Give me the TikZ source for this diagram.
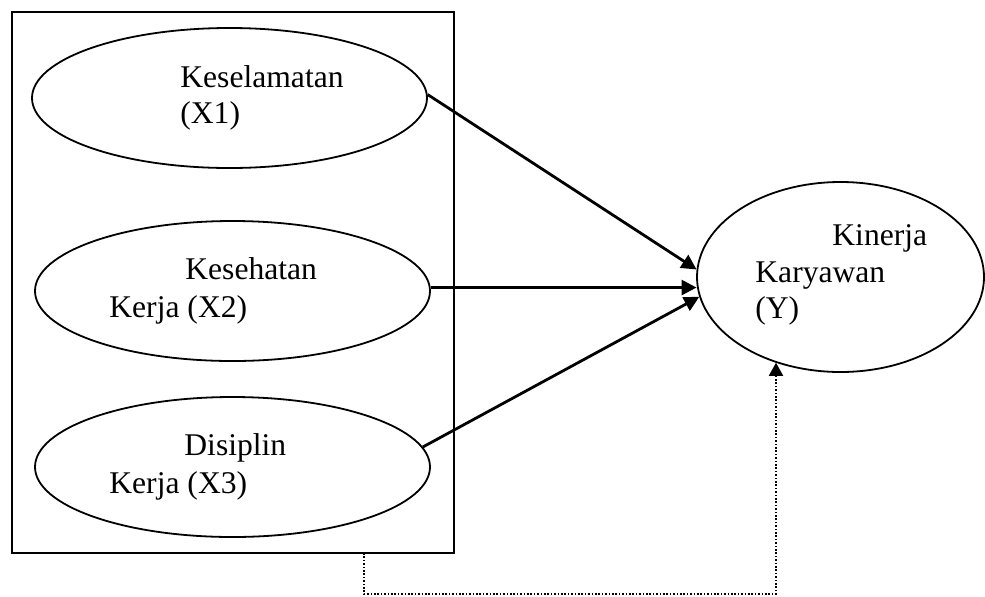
\documentclass[tikz,border=0pt]{standalone}
\usepackage{fontspec}
\setmainfont{Liberation Serif}
\usetikzlibrary{arrows.meta,shapes.geometric}
\begin{document}
\begin{tikzpicture}[x=0.5pt,y=-0.5pt,
  varbox/.style={draw,ellipse,line width=0.9pt,inner sep=0pt},
  lbl/.style={anchor=base west,inner sep=0pt,font=\fontsize{15.8}{18.5}\selectfont},
  path/.style={line width=1.4pt,-{Triangle[length=7.5pt,width=7.5pt]}},
  dotpath/.style={line width=0.9pt,dash pattern=on 0.8pt off 0.9pt,-{Triangle[length=6.5pt,width=7pt]}}
]
\useasboundingbox (0,0) rectangle (985,596);
\node[draw,line width=1.1pt,minimum width=221pt,minimum height=270.5pt,inner sep=0pt] (box) at (233,282.5) {};
\node[varbox,minimum width=197.5pt,minimum height=70pt] (X1) at (229.5,98) {};
\node[varbox,minimum width=197.5pt,minimum height=70pt] (X2) at (232.5,291) {};
\node[varbox,minimum width=197.5pt,minimum height=70pt] (X3) at (232.5,467) {};
\node[varbox,minimum width=143.5pt,minimum height=95pt] (Y) at (840.5,277) {};
\node[lbl] (t1a) at (180,87) {Keselamatan};
\node[lbl] (t1b) at (180,123) {(X1)};
\node[lbl] (t2a) at (185,279) {Kesehatan};
\node[lbl] (t2b) at (109,317) {Kerja (X2)};
\node[lbl] (t3a) at (184,455) {Disiplin};
\node[lbl] (t3b) at (109,493) {Kerja (X3)};
\node[lbl] (tya) at (832,245) {Kinerja};
\node[lbl] (tyb) at (755,282) {Karyawan};
\node[lbl] (tyc) at (755,318) {(Y)};
\draw[path] (X1.1.8) -- (Y.177.2);
\draw[path] (X2.1.5) -- (X2.1.5 -| Y.183.6);
\draw[path] (X3.6) -- (Y.188.7);
\coordinate (d1) at (364,553);
\coordinate (d2) at (364,594);
\coordinate (d3) at (776,594);
\draw[dotpath] (d1) -- (d2) -- (d3) -- (d3 |- Y.233.1);
\end{tikzpicture}
\end{document}
